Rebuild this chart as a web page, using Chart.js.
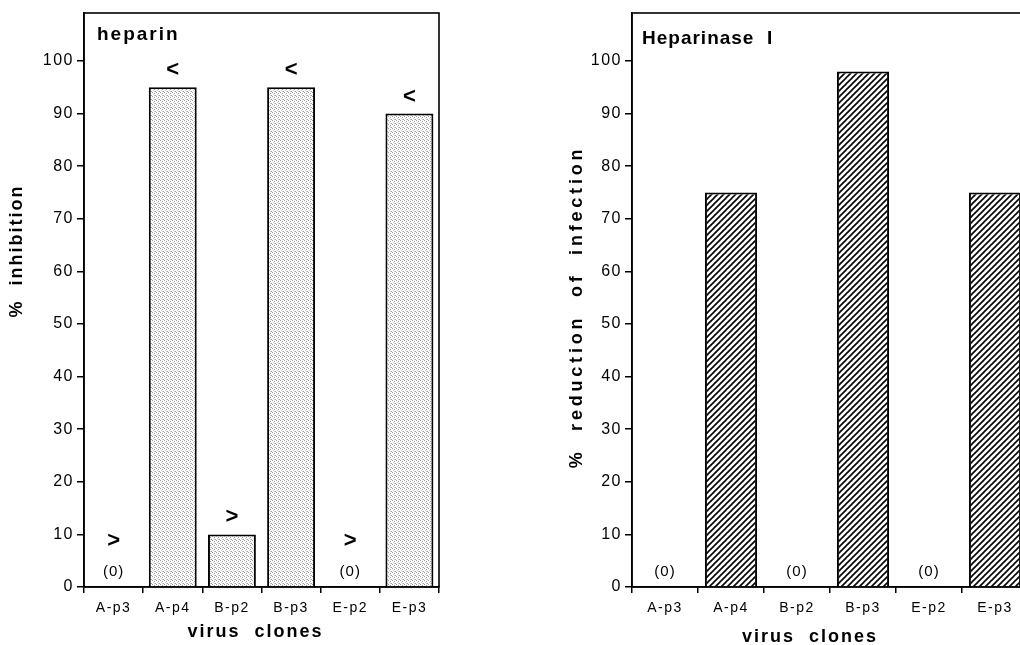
<!DOCTYPE html>
<html>
<head>
<meta charset="utf-8">
<script src="https://cdn.jsdelivr.net/npm/chart.js@4.4.1/dist/chart.umd.min.js"></script>
<style>
  html, body { margin: 0; padding: 0; background: #fff; overflow: hidden; width: 1020px; height: 645px; }
  canvas { position: absolute; top: 0; }
  #c1 { left: 0; }
  #c2 { left: 540px; }
</style>
</head>
<body>
<canvas id="c1" width="460" height="645"></canvas>
<canvas id="c2" width="500" height="645"></canvas>
<script>
// data
const clones = ['A-p3', 'A-p4', 'B-p2', 'B-p3', 'E-p2', 'E-p3'];
const heparinInhibition = [0, 95, 10, 95, 0, 90];
const heparinMarks = ['>', '<', '>', '<', '>', '<'];
const heparinaseReduction = [0, 75, 0, 98, 0, 75];
const heparinaseMarks = ['', '', '', '', '', ''];
const yTicks = [0, 10, 20, 30, 40, 50, 60, 70, 80, 90, 100];

const FONT = "'Liberation Sans', Arial, Helvetica, sans-serif";
Chart.defaults.font.family = FONT;
Chart.defaults.color = '#000';

// fill textures
function stipple() {
    const c = document.createElement('canvas');
    c.width = 4; c.height = 4;
    const g = c.getContext('2d');
    g.fillStyle = '#fff';
    g.fillRect(0, 0, 4, 4);
    g.fillStyle = '#9c9c9c';
    [[0, 0], [2, 1], [3, 3]].forEach(p => g.fillRect(p[0], p[1], 1, 1));
    g.fillStyle = '#cfcfcf';
    [[1, 2], [2, 3]].forEach(p => g.fillRect(p[0], p[1], 1, 1));
    return g.createPattern(c, 'repeat');
}

function hatch() {
    const c = document.createElement('canvas');
    c.width = 6; c.height = 6;
    const g = c.getContext('2d');
    g.fillStyle = '#fff';
    g.fillRect(0, 0, 6, 6);
    g.strokeStyle = '#000';
    g.lineWidth = 1.6;
    [[0, 6, 6, 0], [-3, 3, 3, -3], [3, 9, 9, 3]].forEach(l => {
        g.beginPath(); g.moveTo(l[0], l[1]); g.lineTo(l[2], l[3]); g.stroke();
    });
    return g.createPattern(c, 'repeat');
}

function spaced(ctx, text, x, y, font, spacing, align) {
    ctx.font = font;
    ctx.letterSpacing = spacing + 'px';
    ctx.textAlign = align || 'left';
    ctx.fillText(text, x, y);
}

const panelPlugin = {
    id: 'panel',
    beforeDraw(chart) {
        chart.ctx.letterSpacing = '1.5px';
    },
    beforeDatasetsDraw(chart) {
        const a = chart.chartArea;
        const ctx = chart.ctx;
        ctx.save();
        ctx.strokeStyle = '#000';
        ctx.lineWidth = 1.6;
        ctx.strokeRect(a.left, a.top, a.right - a.left, a.bottom - a.top);
        ctx.restore();
    },
    afterDraw(chart, args, o) {
        const ctx = chart.ctx;
        const a = chart.chartArea;
        const xs = chart.scales.x, ys = chart.scales.y;
        const vals = chart.data.datasets[0].data;
        ctx.save();
        ctx.fillStyle = '#000';
        ctx.textBaseline = 'middle';
        // (0) labels and < > marks
        vals.forEach((v, i) => {
            const x = xs.getPixelForValue(i);
            const base = ys.getPixelForValue(0);
            if (v === 0) spaced(ctx, '(0)', x, base - 15, '15px ' + FONT, 1, 'center');
            const m = o.marks[i];
            if (m) {
                const y = v === 0 ? base - 46 : ys.getPixelForValue(v) - 17;
                spaced(ctx, m, x, y, 'bold 22px ' + FONT, 0, 'center');
            }
        });
        // panel title
        ctx.textBaseline = 'alphabetic';
        spaced(ctx, o.title, a.left + o.titleDx, a.top + o.titleDy, 'bold 19px ' + FONT, o.titleSpacing, 'left');
        // x axis title
        spaced(ctx, 'virus  clones', (a.left + a.right) / 2 + o.xTitleDx, o.xTitleY, 'bold 18px ' + FONT, 2, 'center');
        // y axis title
        ctx.translate(o.yTitleX, o.yTitleY);
        ctx.rotate(-Math.PI / 2);
        ctx.textBaseline = 'middle';
        spaced(ctx, o.yTitle, 0, 0, 'bold 18px ' + FONT, o.yTitleSpacing, 'center');
        ctx.restore();
    }
};

function makeChart(id, values, marks, fill, yWidth, padRight, barPct, panel) {
    return new Chart(document.getElementById(id), {
        type: 'bar',
        data: {
            labels: clones,
            datasets: [{
                data: values,
                backgroundColor: fill,
                borderColor: '#000',
                borderWidth: 2,
                barPercentage: barPct,
                categoryPercentage: 1
            }]
        },
        options: {
            responsive: false,
            animation: false,
            layout: { padding: { top: 13, left: 0, right: padRight, bottom: 0 } },
            plugins: {
                legend: { display: false },
                tooltip: { enabled: false },
                panel: Object.assign({ marks: marks }, panel)
            },
            scales: {
                x: {
                    offset: true,
                    grid: { offset: true, drawOnChartArea: false, color: '#000', tickLength: 6, lineWidth: 1.5 },
                    border: { color: '#000', width: 1.6 },
                    ticks: { font: { size: 14 }, padding: 7, color: '#000', maxRotation: 0 },
                    afterFit: s => { s.height = 58; }
                },
                y: {
                    min: 0,
                    max: 109.1,
                    afterBuildTicks: s => { s.ticks = yTicks.map(v => ({ value: v })); },
                    grid: { drawOnChartArea: false, color: '#000', tickLength: 7, lineWidth: 1.5 },
                    border: { color: '#000', width: 1.6 },
                    ticks: { font: { size: 16 }, padding: 3, color: '#000' },
                    afterFit: s => { s.width = yWidth; }
                }
            }
        },
        plugins: [panelPlugin]
    });
}

makeChart('c1', heparinInhibition, heparinMarks, stipple(), 84, 21, 0.81, {
    title: 'heparin', titleDx: 13, titleDy: 27, titleSpacing: 2,
    xTitleDx: -6, xTitleY: 637,
    yTitle: '%  inhibition', yTitleX: 17, yTitleY: 251, yTitleSpacing: 2
});

makeChart('c2', heparinaseReduction, heparinaseMarks, hatch(), 92, 12, 0.79, {
    title: 'Heparinase  I', titleDx: 10, titleDy: 31, titleSpacing: 1,
    xTitleDx: -20, xTitleY: 642,
    yTitle: '%  reduction  of  infection', yTitleX: 37, yTitleY: 307, yTitleSpacing: 3.8
});
</script>
</body>
</html>
